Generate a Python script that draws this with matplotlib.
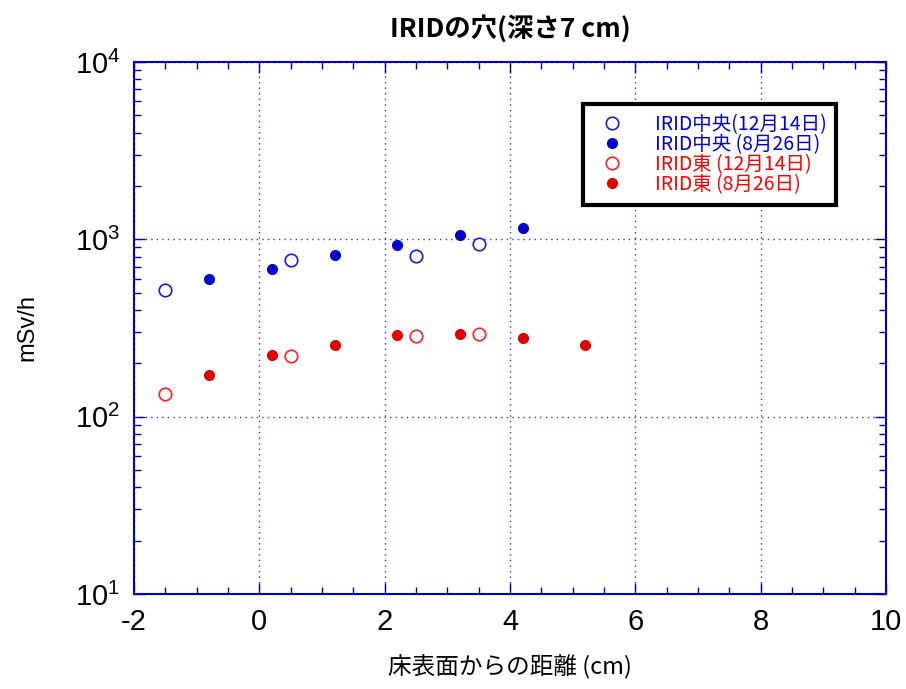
import matplotlib
matplotlib.use("Agg")
import matplotlib.pyplot as plt
from matplotlib.ticker import MultipleLocator, LogLocator, NullFormatter, FixedLocator
from matplotlib.lines import Line2D

plt.rcParams['font.family'] = ['Noto Sans CJK JP', 'DejaVu Sans']
plt.rcParams['mathtext.fontset'] = 'custom'
plt.rcParams['mathtext.rm'] = 'Liberation Sans'
plt.rcParams['mathtext.it'] = 'Liberation Sans'

# データ
x_chuo_1214 = [-1.5, 0.5, 2.5, 3.5]
y_chuo_1214 = [521, 768, 802, 937]

x_chuo_0826 = [-0.8, 0.2, 1.2, 2.2, 3.2, 4.2]
y_chuo_0826 = [595, 678, 820, 929, 1062, 1158]

x_higashi_1214 = [-1.5, 0.5, 2.5, 3.5]
y_higashi_1214 = [135, 220, 285, 292]

x_higashi_0826 = [-0.8, 0.2, 1.2, 2.2, 3.2, 4.2, 5.2]
y_higashi_0826 = [171, 224, 254, 290, 293, 276, 254]

labels = ["IRID中央(12月14日)", "IRID中央 (8月26日)",
          "IRID東 (12月14日)", "IRID東 (8月26日)"]

x_ticks = [-2, 0, 2, 4, 6, 8, 10]
y_ticks = [10, 100, 1000, 10000]
y_ticklabels = ["$10^{1}$", "$10^{2}$", "$10^{3}$", "$10^{4}$"]

blue = '#0000cc'
red = '#e00000'

fig = plt.figure(figsize=(9.06, 6.89), dpi=100)
ax = fig.add_axes([134/906, 1 - 594/689, (886-134)/906, (594-62)/689])

ax.plot(x_chuo_1214, y_chuo_1214, 'o', ms=9, mfc='white', mec='#1a1ae0', mew=1.2, zorder=3)
ax.plot(x_chuo_0826, y_chuo_0826, 'o', ms=7, mfc=blue, mec=blue, zorder=3)
ax.plot(x_higashi_1214, y_higashi_1214, 'o', ms=9, mfc='white', mec='#ff2020', mew=1.2, zorder=3)
ax.plot(x_higashi_0826, y_higashi_0826, 'o', ms=7, mfc=red, mec=red, zorder=3)

ax.set_yscale('log')
ax.set_xlim(-2, 10)
ax.set_ylim(10, 10000)

ax.xaxis.set_major_locator(FixedLocator(x_ticks))
ax.xaxis.set_minor_locator(MultipleLocator(0.5))
ax.set_xticklabels([str(v) for v in x_ticks])
ax.yaxis.set_major_locator(FixedLocator(y_ticks))
ax.set_yticklabels(y_ticklabels)
ax.yaxis.set_minor_locator(LogLocator(base=10, subs=range(2, 10)))
ax.yaxis.set_minor_formatter(NullFormatter())

ax.tick_params(which='both', direction='in', top=True, right=True, color=blue,
               labelcolor='black', pad=10)
ax.tick_params(which='major', length=8, width=1)
ax.tick_params(which='minor', length=5, width=1)
for lab in ax.get_xticklabels() + ax.get_yticklabels():
    lab.set_fontfamily('Liberation Sans')
    lab.set_fontsize(21)

for s in ax.spines.values():
    s.set_color(blue)
    s.set_linewidth(1.5)

ax.grid(True, which='major', color='#3333dd', linestyle=(0, (1, 3)), linewidth=1)

ax.set_title("IRIDの穴(深さ7 cm)", fontsize=19, fontweight='bold', pad=18)
ax.set_xlabel("床表面からの距離 (cm)", fontsize=17, labelpad=14)
ax.set_ylabel("mSv/h", fontsize=17, fontfamily='Liberation Sans', labelpad=26)

handles = [
    Line2D([], [], ls='none', marker='o', ms=9, mfc='white', mec='#1a1ae0', mew=1.2),
    Line2D([], [], ls='none', marker='o', ms=7, mfc=blue, mec=blue),
    Line2D([], [], ls='none', marker='o', ms=9, mfc='white', mec='#ff2020', mew=1.2),
    Line2D([], [], ls='none', marker='o', ms=7, mfc=red, mec=red),
]
leg = ax.legend(handles, labels, loc='upper left', bbox_to_anchor=(449/752, 1 - 42/532),
                fontsize=14, labelspacing=-0.05, handletextpad=1.2, borderpad=0.5,
                borderaxespad=0, fancybox=False, framealpha=1, edgecolor='black',
                labelcolor=['#0000dd', '#0000dd', '#ff0000', '#ff0000'])
leg.get_frame().set_linewidth(3)

fig.savefig("out.png", dpi=100)
